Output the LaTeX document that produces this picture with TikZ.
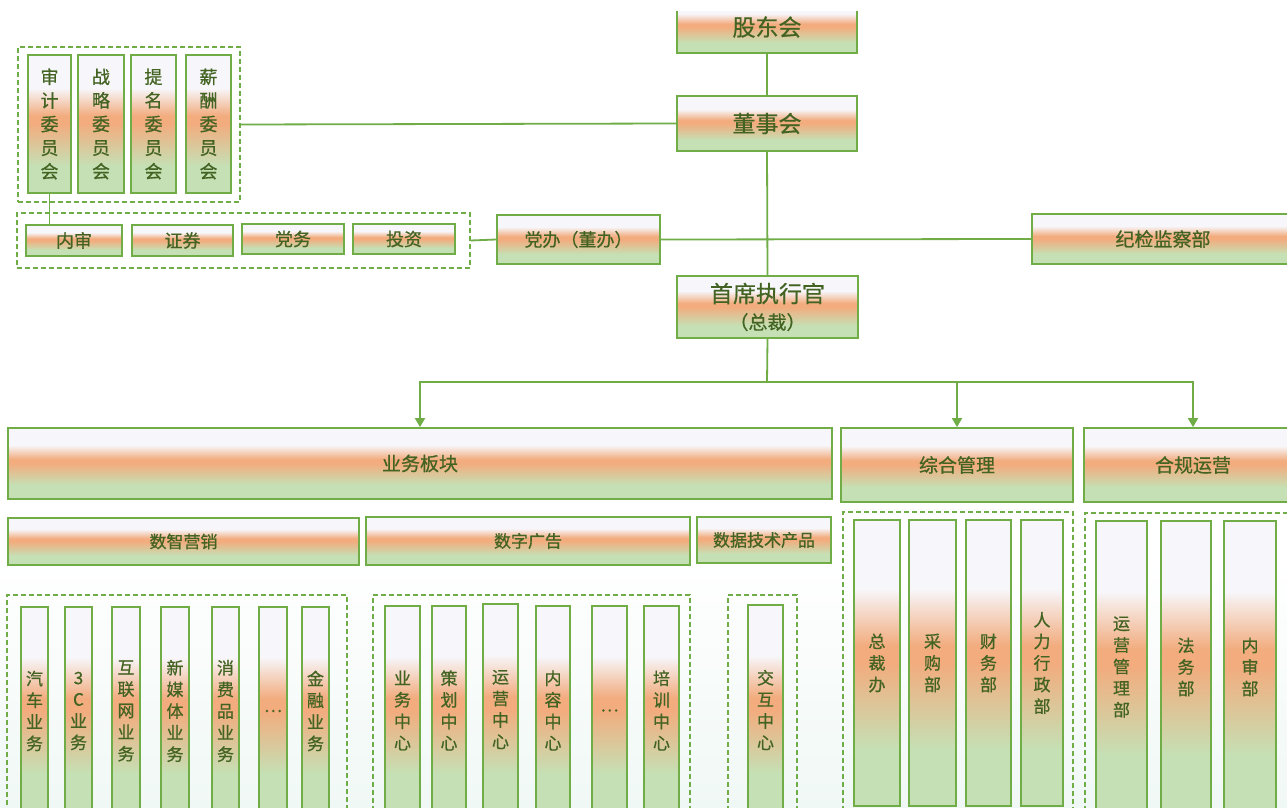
\documentclass[tikz,border=0pt]{standalone}
\usepackage{fontspec}
\setmainfont{Noto Sans CJK SC}[FakeBold=0.7]
\usetikzlibrary{arrows.meta}

\definecolor{gWhite}{RGB}{247,247,251}
\definecolor{gOrange}{RGB}{242,172,126}
\definecolor{gGreen}{RGB}{197,224,180}
\definecolor{lineG}{RGB}{112,173,71}
\definecolor{textG}{RGB}{66,99,34}
\definecolor{bgTint}{RGB}{240,248,245}

% white top, orange band a little above the middle, green bottom
\pgfdeclareverticalshading{boxgrad}{100bp}{color(0bp)=(gGreen); color(35bp)=(gGreen);
  color(50bp)=(gOrange); color(53bp)=(gOrange); color(63bp)=(gWhite); color(100bp)=(gWhite)}

% box given by its corners: [style] x1 y1 x2 y2 name text
\newcommand{\rbox}[7][]{\node[#1,minimum width={#4-#2},minimum height={#5-#3}] (#6) at ({(#2+#4)/2},{(#3+#5)/2}) {#7};}

\tikzset{
  unit/.style={draw=lineG, line width=1.8pt, shading=boxgrad, text=textG,
    inner sep=0pt, align=center},
  grp/.style={draw=lineG, line width=1.3pt, dash pattern=on 5pt off 3pt, inner sep=0pt},
  link/.style={draw=lineG, line width=1.8pt},
  arr/.style={link, -{Triangle[width=10pt,length=9pt]}},
  hA/.style={unit, font=\fontsize{23}{27}\selectfont},
  hB/.style={unit, font=\fontsize{19}{22}\selectfont},
  hC/.style={unit, font=\fontsize{18}{21}\selectfont},
  hD/.style={unit, font=\fontsize{17}{20}\selectfont},
  vA/.style={unit, font=\fontsize{18}{23.6}\selectfont},
  vB/.style={unit, font=\fontsize{17}{21.6}\selectfont},
}

\begin{document}
\begin{tikzpicture}[x=1pt,y=-1pt]
\useasboundingbox (0,0) rectangle (1287,808);
\clip (0,0) rectangle (1287,808);
\fill[white] (0,0) rectangle (1287,808);
\shade[top color=white, bottom color=bgTint] (0,560) rectangle (1287,808);

% governance
\begin{scope}
  \clip (0,12) rectangle (1287,808);
  \rbox[hA]{677}{1}{857}{53}{gdh}{股东会}
\end{scope}
\rbox[hA]{677}{96}{857}{151}{dsh}{董事会}
\rbox[hA]{677}{276}{858}{338}{ceo}{首席执行官\\{\fontsize{19}{28}\selectfont （总裁）}}
\rbox[hC]{497}{215}{660}{264}{db}{党办（董办）}
\rbox[hB]{1032}{214}{1294}{264}{jj}{纪检监察部}

% board committees
\rbox[grp]{18}{47}{240}{202}{g1}{}
\rbox[vA]{28}{55}{71}{193}{sj}{审\\计\\委\\员\\会}
\rbox[vA]{78}{55}{124}{193}{zl}{战\\略\\委\\员\\会}
\rbox[vA]{131}{55}{176}{193}{tm}{提\\名\\委\\员\\会}
\rbox[vA]{186}{55}{231}{193}{xc}{薪\\酬\\委\\员\\会}

\rbox[grp]{17}{213}{470}{268}{g2}{}
\rbox[hC]{26}{225}{122}{256}{ns}{内审}
\rbox[hC]{132}{225}{233}{256}{zq}{证券}
\rbox[hC]{242}{224}{344}{254}{dw}{党务}
\rbox[hC]{353}{224}{455}{254}{tz}{投资}

% divisions
\rbox[hB]{8}{428}{832}{499}{yw}{业务板块}
\rbox[hB]{841}{428}{1073}{502}{zh}{综合管理}
\rbox[hB]{1084}{428}{1302}{502}{hg}{合规运营}

\rbox[hD]{8}{518}{359}{565}{szyx}{数智营销}
\rbox[hD]{366}{517}{690}{565}{szgg}{数字广告}
\rbox[hD]{697}{517}{831}{563}{sjjs}{数据技术产品}

% business units
\rbox[grp]{7}{595}{347}{830}{gA}{}
\rbox[vB]{21}{607}{48}{815}{a1}{汽\\车\\业\\务}
\rbox[vB]{65}{607}{92}{815}{a2}{3\\C\\业\\务}
\rbox[vB]{112}{607}{140}{815}{a3}{互\\联\\网\\业\\务}
\rbox[vB]{161}{607}{189}{815}{a4}{新\\媒\\体\\业\\务}
\rbox[vB]{212}{607}{239}{815}{a5}{消\\费\\品\\业\\务}
\rbox[vB]{259}{607}{287}{815}{a6}{…}
\rbox[vB]{302}{607}{329}{815}{a7}{金\\融\\业\\务}

\rbox[grp]{373}{595}{690}{830}{gB}{}
\rbox[vB]{385}{606}{420}{815}{b1}{业\\务\\中\\心}
\rbox[vB]{432}{606}{466}{815}{b2}{策\\划\\中\\心}
\rbox[vB]{483}{604}{518}{815}{b3}{运\\营\\中\\心}
\rbox[vB]{536}{606}{570}{815}{b4}{内\\容\\中\\心}
\rbox[vB]{592}{606}{627}{815}{b5}{…}
\rbox[vB]{644}{606}{679}{815}{b6}{培\\训\\中\\心}

\rbox[grp]{728}{595}{797}{830}{gC}{}
\rbox[vB]{748}{605}{783}{815}{c1}{交\\互\\中\\心}

% management departments
\rbox[grp]{843}{512}{1073}{830}{gD}{}
\rbox[vB]{854}{520}{900}{806}{d1}{总\\裁\\办}
\rbox[vB]{909}{520}{956}{806}{d2}{采\\购\\部}
\rbox[vB]{966}{520}{1011}{806}{d3}{财\\务\\部}
\rbox[vB]{1021}{520}{1063}{806}{d4}{人\\力\\行\\政\\部}

\rbox[grp]{1085}{513}{1300}{830}{gE}{}
\rbox[vB]{1096}{521}{1147}{813}{e1}{运\\营\\管\\理\\部}
\rbox[vB]{1161}{521}{1211}{813}{e2}{法\\务\\部}
\rbox[vB]{1224}{521}{1276}{813}{e3}{内\\审\\部}

% connectors
\draw[link] (gdh.south) -- (dsh.north);
\draw[link] (g1.east) -- (dsh.west);
\draw[link] (sj.south) -- (sj.south |- ns.north);
\draw[link] (g2.east) -- (db.west);
\draw[link] (db.east) -- (jj.west);
\draw[link] (dsh.south) -- (ceo.north);
\coordinate (split) at (767,382);
\draw[link] (ceo.south) -- (split);
\draw[arr] (split) -| (yw.north);
\draw[arr] (split) -| (zh.north);
\draw[arr] (split) -| (hg.north);
\end{tikzpicture}
\end{document}
